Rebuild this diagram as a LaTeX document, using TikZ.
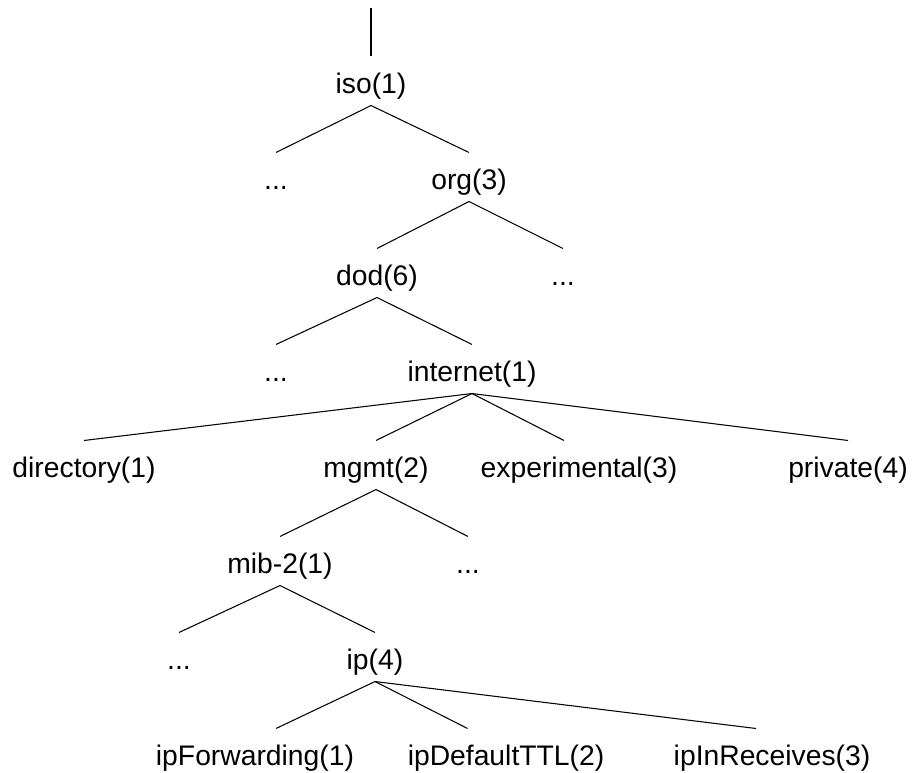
\documentclass[tikz,border=0pt]{standalone}
\usepackage{fontspec}
\setmainfont{Liberation Sans}
\tikzset{
  oid/.style={inner sep=0pt, text height=0.72cm, text depth=0.24cm, anchor=base,
    font=\fontsize{16.1pt}{19pt}\selectfont},
}
\begin{document}
\begin{tikzpicture}[x=0.02cm, y=-0.02cm, line width=0.6pt]
  \useasboundingbox (0,0) rectangle (914,772);
  \node[oid] (iso) at (371,93) {iso(1)};
  \coordinate (top) at (iso.north |- 0,8);
  \node[oid] (dotsa) at (276,189) {...};
  \node[oid] (org) at (469,189) {org(3)};
  \node[oid] (dod) at (377,285) {dod(6)};
  \node[oid] (dotsb) at (563,285) {...};
  \node[oid] (dotsc) at (276,381) {...};
  \node[oid] (internet) at (472,381) {internet(1)};
  \node[oid] (directory) at (84,477) {directory(1)};
  \node[oid] (mgmt) at (376,477) {mgmt(2)};
  \node[oid] (experimental) at (579,477) {experimental(3)};
  \node[oid] (private) at (848,477) {private(4)};
  \node[oid] (mib) at (280,573) {mib-2(1)};
  \node[oid] (dotsd) at (468,573) {...};
  \node[oid] (dotse) at (179,669) {...};
  \node[oid] (ip) at (375,669) {ip(4)};
  \node[oid] (ipfwd) at (255,765) {ipForwarding(1)};
  \node[oid] (ipttl) at (506,765) {ipDefaultTTL(2)};
  \node[oid] (ipin) at (772,765) {ipInReceives(3)};

  \draw (top) -- (iso.north);
  \draw (iso.south) -- (dotsa.north); \draw (iso.south) -- (org.north);
  \draw (org.south) -- (dod.north); \draw (org.south) -- (dotsb.north);
  \draw (dod.south) -- (dotsc.north); \draw (dod.south) -- (internet.north);
  \draw (internet.south) -- (directory.north);
  \draw (internet.south) -- (mgmt.north);
  \draw (internet.south) -- ([xshift=-0.3cm]experimental.north);
  \draw (internet.south) -- (private.north);
  \draw (mgmt.south) -- (mib.north); \draw (mgmt.south) -- (dotsd.north);
  \draw (mib.south) -- (dotse.north); \draw (mib.south) -- (ip.north);
  \draw (ip.south) -- ([xshift=0.42cm]ipfwd.north);
  \draw (ip.south) -- ([xshift=-0.77cm]ipttl.north);
  \draw (ip.south) -- ([xshift=-0.32cm]ipin.north);
\end{tikzpicture}
\end{document}
